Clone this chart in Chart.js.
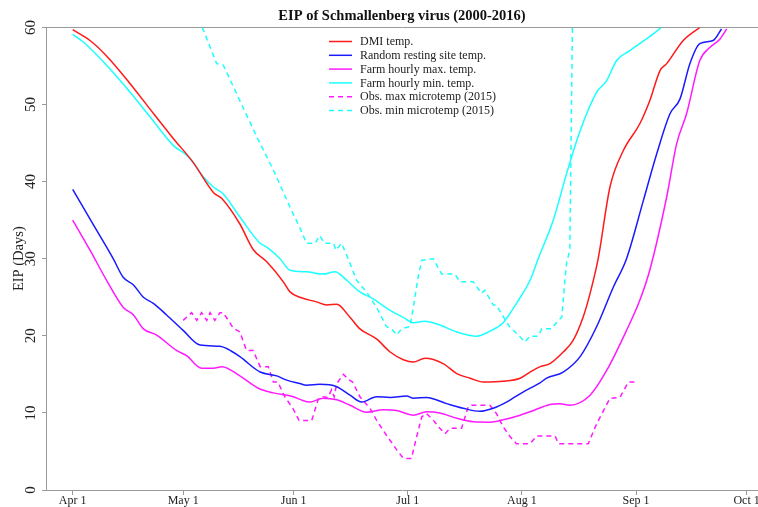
<!DOCTYPE html>
<html>
<head>
<meta charset="utf-8">
<script src="https://cdn.jsdelivr.net/npm/chart.js@4/dist/chart.umd.min.js"></script>
<style>
  html, body { margin: 0; padding: 0; background: #fff; }
  canvas { display: block; }
</style>
</head>
<body>
<canvas id="eip" width="758" height="507"></canvas>
<script>
// x = days after Apr 1
var tickDays = [0, 30, 60, 91, 122, 153, 183];
var tickLabels = ['Apr 1', 'May 1', 'Jun 1', 'Jul 1', 'Aug 1', 'Sep 1', 'Oct 1'];
var yTicks = [0, 10, 20, 30, 40, 50, 60];

var seriesNames = ['DMI temp.', 'Random resting site temp.', 'Farm hourly max. temp.',
  'Farm hourly min. temp.', 'Obs. max microtemp (2015)', 'Obs. min microtemp (2015)'];

var dmiDay = [0, 4.7, 9.2, 15.6, 21, 27.3, 32.7, 38.2, 40.5, 45.4, 49, 52.7, 57.2, 59, 61.7, 66.2, 69, 71.7, 75.3, 78, 82.5, 86.2, 89.8, 92.5, 95.7, 100.6, 104.3, 107.9, 111.5, 116.9, 121.5, 124.2, 127, 129.6, 133.2, 135.9, 138.6, 140.5, 142.7, 145.9, 149.5, 154, 156.7, 159.5, 161.3, 165.8, 170.3];
var dmiEip = [59.7, 58.3, 56.3, 52.7, 49.4, 45.6, 42.5, 38.6, 37.8, 34.5, 31.2, 29.6, 27.0, 25.7, 25.0, 24.4, 24.0, 24.1, 22.4, 20.9, 19.6, 17.9, 16.9, 16.6, 17.1, 16.4, 15.1, 14.5, 14.0, 14.1, 14.5, 15.3, 16.0, 16.4, 17.9, 19.4, 22.4, 25.5, 30.0, 39.3, 44.0, 47.5, 50.5, 54.4, 55.3, 58.3, 60.0];

var restDay = [0, 5, 11, 13.7, 16.5, 19.2, 21.9, 25.5, 30, 34.6, 40, 41.8, 45.4, 50.9, 55.4, 58.1, 61.7, 63.5, 67.1, 71.7, 75.3, 78.5, 82.5, 86.2, 90.7, 92.5, 96.1, 101.5, 106, 110.6, 114.2, 117.8, 122.3, 126.9, 128.7, 133.2, 137.8, 142.3, 146.8, 150.4, 155, 158.6, 162.2, 164.9, 167.6, 170.3, 173.9, 176.2];
var restEip = [39.0, 34.9, 30.0, 27.6, 26.6, 25.0, 24.2, 22.7, 20.7, 18.8, 18.65, 18.35, 17.3, 15.3, 14.8, 14.25, 13.8, 13.6, 13.7, 13.4, 12.3, 11.4, 12.1, 12.0, 12.2, 11.9, 12.0, 11.2, 10.6, 10.2, 10.6, 11.4, 12.7, 13.9, 14.5, 15.3, 17.3, 21.2, 26.3, 30.0, 37.6, 43.6, 48.8, 50.7, 55.3, 57.9, 58.3, 59.8];

var maxDay = [0, 4.7, 9.2, 13.7, 16.5, 19.2, 22.8, 28.2, 31, 35, 38.2, 40.5, 45.4, 50.4, 54.5, 59.9, 61.7, 64.4, 68, 71.7, 75.3, 79.8, 84.3, 88, 92.5, 96.1, 99.7, 104.3, 108.8, 113.3, 116.9, 121.5, 124.2, 129.6, 132.3, 135, 140.5, 145, 150.4, 154, 156.7, 161.3, 164, 166.7, 170.3, 173, 175.8, 177.6];
var maxEip = [35.0, 31.1, 27.2, 23.7, 22.7, 20.9, 20.1, 18.1, 17.4, 15.8, 15.8, 16.0, 14.8, 13.2, 12.6, 12.1, 11.75, 11.4, 11.9, 11.7, 11.0, 10.1, 10.4, 10.3, 9.7, 10.15, 10.0, 9.3, 8.85, 8.8, 9.1, 9.7, 10.15, 11.1, 11.2, 11.0, 12.3, 15.5, 20.7, 24.6, 28.5, 38.0, 44.9, 48.8, 55.7, 57.4, 58.5, 59.8];

var minDay = [0, 2.9, 9.2, 15.6, 21, 27.3, 31, 32.7, 35.5, 38.2, 40.9, 45.4, 50.9, 52.7, 56.3, 59, 63.5, 68, 71.2, 74.4, 78, 81.6, 86.2, 89.8, 92.5, 95.7, 99.7, 104.3, 109.7, 113.3, 116.9, 120.5, 124.2, 126.4, 130.5, 134.1, 137.8, 142.3, 145, 147.7, 151.3, 155.8, 159.9];
var minEip = [59.1, 58.1, 55.1, 51.6, 48.4, 44.7, 43.4, 42.5, 40.6, 39.3, 38.4, 35.4, 32.0, 31.5, 30.0, 28.5, 28.3, 28.0, 28.3, 27.2, 25.7, 24.8, 23.3, 22.4, 21.7, 21.9, 21.4, 20.5, 19.95, 20.6, 21.7, 24.2, 27.2, 30.0, 35.0, 41.0, 46.6, 51.6, 53.1, 55.7, 57.0, 58.5, 60.0];

var obsMaxDay = [30, 32.3, 33.7, 35, 36.4, 37.3, 38.6, 40, 40.9, 43.6, 45.4, 47.2, 49, 50.9, 53.1, 54.5, 55.7, 57.6, 59.9, 61.5, 64.9, 66.7, 68, 69.3, 70.3, 71, 71.7, 73.5, 75.3, 76, 78, 80.7, 82.5, 85.2, 88, 89.8, 92, 93.4, 94.8, 96.1, 97.9, 99.7, 101.1, 102.5, 105.6, 107.4, 108.3, 113.3, 115.1, 116.9, 118.8, 120.5, 124.2, 126, 131, 131.9, 140, 142.3, 145.9, 148.6, 150.9, 153];
var obsMaxEip = [22, 23, 22, 23, 22, 23, 22, 23, 23, 21, 20.5, 18.1, 18.1, 16, 16, 14, 14, 12.1, 10.5, 9, 9, 11.8, 12.1, 12, 13, 12.1, 13.8, 15, 14.2, 14, 12.1, 10.6, 9.07, 7.1, 5.2, 4.1, 4.1, 6.9, 9.5, 9.9, 9.07, 8, 7.3, 8, 8, 10.8, 11, 11, 9.9, 8.2, 6.9, 6, 6, 7, 7, 6, 6, 8.6, 11.9, 12, 14, 14];

var obsMinDay = [35.2, 39.1, 40.9, 45.4, 50, 54.5, 59, 61.7, 63.5, 65.8, 67.1, 68.3, 70.8, 71.5, 73, 74.8, 77.1, 79.8, 82.5, 85.2, 86.6, 88, 89.3, 91.6, 92.5, 93.8, 94.8, 97.9, 100.2, 103.8, 105.2, 108.8, 111, 111.9, 114.2, 115, 118.6, 121, 122.8, 124.2, 126.4, 127.4, 130, 131.9, 132.8, 134.1, 135, 135.7];
var obsMinEip = [60, 55.3, 55.1, 50.5, 45.8, 41.5, 36.7, 34, 32, 32, 33, 32, 32, 31.1, 32, 30, 27.2, 25.7, 23.7, 21.2, 20.9, 20.1, 20.9, 21.2, 23.7, 27.6, 29.8, 30, 28, 28, 27, 27, 25.5, 25.9, 24, 24, 21.2, 20.1, 19.2, 19.95, 19.95, 20.9, 20.9, 22, 22.4, 29.4, 31.1, 60];

var serif = 'Liberation Serif, Times New Roman, serif';
var axisGrey = '#9a9a9a';

function punkti(xs, ys) {
  return xs.map(function (x, i) { return { x: x, y: ys[i] }; });
}

function linija(ime, xs, ys, boja, crtkano) {
  return {
    label: ime,
    data: punkti(xs, ys),
    borderColor: boja,
    borderWidth: 1.5,
    borderDash: crtkano ? [5, 4] : [],
    pointRadius: 0,
    fill: false,
    tension: crtkano ? 0 : 0.4,
    cubicInterpolationMode: crtkano ? 'default' : 'monotone',
    clip: 0
  };
}

// simple R-style legend without a box
var legendaPlugin = {
  id: 'legenda',
  afterDraw: function (chart) {
    var ctx = chart.ctx;
    ctx.save();
    ctx.font = '12px ' + serif;
    ctx.textBaseline = 'middle';
    ctx.textAlign = 'left';
    chart.data.datasets.forEach(function (ds, i) {
      var y = 41.5 + i * 13.8;
      ctx.strokeStyle = ds.borderColor;
      ctx.lineWidth = 1.5;
      ctx.setLineDash(ds.borderDash);
      ctx.beginPath();
      ctx.moveTo(329, y);
      ctx.lineTo(352, y);
      ctx.stroke();
      ctx.setLineDash([]);
      ctx.fillStyle = '#222';
      ctx.fillText(ds.label, 360, y + 0.5);
    });
    ctx.restore();
  }
};

var graf = new Chart(document.getElementById('eip'), {
  type: 'line',
  data: {
    datasets: [
      linija(seriesNames[0], dmiDay, dmiEip, '#ff1a1a', false),
      linija(seriesNames[1], restDay, restEip, '#1a1aff', false),
      linija(seriesNames[2], maxDay, maxEip, '#ff1aff', false),
      linija(seriesNames[3], minDay, minEip, '#1affff', false),
      linija(seriesNames[4], obsMaxDay, obsMaxEip, '#ff1aff', true),
      linija(seriesNames[5], obsMinDay, obsMinEip, '#1affff', true)
    ]
  },
  options: {
    responsive: false,
    animation: false,
    devicePixelRatio: 1,
    layout: { padding: 0 },
    plugins: {
      legend: { display: false },
      tooltip: { enabled: false },
      title: {
        display: true,
        text: 'EIP of Schmallenberg virus (2000-2016)',
        fullSize: false,
        color: '#111',
        font: { family: serif, size: 14.5, weight: 'bold' },
        padding: { top: 8, bottom: 2 }
      }
    },
    scales: {
      x: {
        type: 'linear',
        position: 'bottom',
        min: -7.25,
        max: 186.1,
        afterBuildTicks: function (s) {
          s.ticks = tickDays.map(function (v) { return { value: v }; });
        },
        afterFit: function (s) {
          s.height = 17;
          s.paddingLeft = 0;
          s.paddingRight = 0;
        },
        ticks: {
          autoSkip: false,
          maxRotation: 0,
          padding: -1,
          color: '#222',
          font: { family: serif, size: 12 },
          callback: function (v) {
            var i = tickDays.indexOf(v);
            return i >= 0 ? tickLabels[i] : '';
          }
        },
        grid: { drawOnChartArea: false, drawTicks: true, tickLength: 5, color: axisGrey },
        border: { color: axisGrey, width: 1 }
      },
      xTop: {
        type: 'linear',
        position: 'top',
        min: -7.25,
        max: 186.1,
        afterFit: function (s) {
          s.height = 0;
          s.paddingLeft = 0;
          s.paddingRight = 0;
        },
        ticks: { display: false },
        grid: { display: false },
        border: { display: true, color: axisGrey, width: 1 }
      },
      y: {
        min: 0,
        max: 60,
        afterBuildTicks: function (s) {
          s.ticks = yTicks.map(function (v) { return { value: v }; });
        },
        afterFit: function (s) {
          s.width = 46;
        },
        ticks: {
          minRotation: 90,
          maxRotation: 90,
          crossAlign: 'center',
          padding: 3,
          color: '#222',
          font: { family: serif, size: 15 }
        },
        grid: { drawOnChartArea: false, drawTicks: true, tickLength: 4, color: axisGrey },
        border: { color: axisGrey, width: 1 },
        title: {
          display: true,
          text: 'EIP (Days)',
          color: '#222',
          font: { family: serif, size: 14.5 },
          padding: { top: 10, bottom: 0 }
        }
      }
    }
  },
  plugins: [legendaPlugin]
});
</script>
</body>
</html>
